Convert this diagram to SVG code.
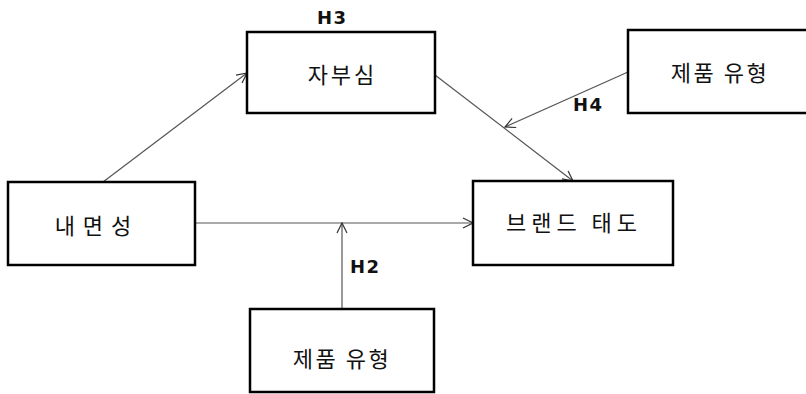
<svg xmlns="http://www.w3.org/2000/svg" width="806" height="394" viewBox="0 0 806 394">
<style>
.box{fill:#fff;stroke:#000;stroke-width:2.5}
.lbl{font-family:"Noto Sans CJK KR","Noto Sans CJK SC",sans-serif;font-size:22px;fill:#111;text-anchor:middle;dominant-baseline:central}
.h{font-family:"DejaVu Sans","Liberation Sans",sans-serif;font-weight:bold;font-size:18px;fill:#111;letter-spacing:1.5px}
.con{stroke:#555;stroke-width:1.2;fill:none;marker-end:url(#arr)}
</style>
<defs>
<marker id="arr" viewBox="0 0 12 12" refX="11" refY="6" markerWidth="12" markerHeight="12" markerUnits="userSpaceOnUse" orient="auto">
<path d="M1,1 L11,6 L1,11" fill="none" stroke="#333" stroke-width="1.2"/>
</marker>
</defs>
<rect width="806" height="394" fill="#fff"/>
<g id="connectors">
<line class="con" x1="103" y1="182" x2="247" y2="73"/>
<line class="con" x1="435" y1="75" x2="573" y2="181"/>
<line class="con" x1="628" y1="72" x2="505" y2="127"/>
<line class="con" x1="195" y1="223" x2="473" y2="223"/>
<line class="con" x1="342" y1="309" x2="342" y2="223"/>
</g>
<g id="node-jabusim">
<rect class="box" x="247" y="32" width="188" height="81"/>
<text class="lbl" x="342.5" y="73" letter-spacing="3">자부심</text>
</g>
<g id="node-product-type-top">
<rect class="box" x="628" y="30" width="190" height="83"/>
<text class="lbl" x="720" y="71" letter-spacing="2.5">제품 유형</text>
</g>
<g id="node-naemyeonseong">
<rect class="box" x="8" y="182" width="187" height="83"/>
<text class="lbl" x="97" y="224" letter-spacing="8">내면성</text>
</g>
<g id="node-brand-attitude">
<rect class="box" x="473" y="181" width="200" height="84"/>
<text class="lbl" x="574" y="221" letter-spacing="5">브랜드 태도</text>
</g>
<g id="node-product-type-bottom">
<rect class="box" x="250" y="309" width="184" height="83"/>
<text class="lbl" x="342" y="357" letter-spacing="2.5">제품 유형</text>
</g>
<g id="labels">
<text class="h" x="317" y="24">H3</text>
<text class="h" x="573" y="111">H4</text>
<text class="h" x="350" y="273">H2</text>
</g>
</svg>
